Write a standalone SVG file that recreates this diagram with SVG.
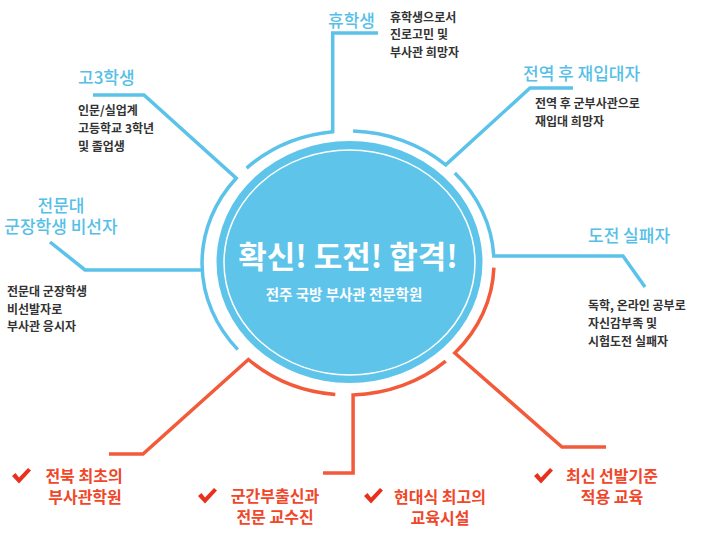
<svg xmlns="http://www.w3.org/2000/svg" width="712" height="539" viewBox="0 0 712 539">
<style>
.conn{fill:none;stroke-width:3.5;stroke-linejoin:miter;stroke-linecap:butt}
.b{stroke:#5bc2ea}
.r{stroke:#f25a3a}
.t{font-family:"Noto Sans CJK KR","Noto Sans",sans-serif;font-size:17px;fill:#56bfe8;font-weight:500}
.d{font-family:"Noto Sans CJK KR","Noto Sans",sans-serif;font-size:12px;fill:#333;font-weight:bold}
.rt{font-family:"Noto Sans CJK KR","Noto Sans",sans-serif;font-size:16px;fill:#f0462a;font-weight:bold;text-anchor:middle}
.ck{fill:#e8301c}
</style>
<defs>
<path id="check" d="M0,8 L3.5,5 L7,9.5 L16,0 L19,2.5 L7,15.5 Z"/>
</defs>
<rect width="712" height="539" fill="#fff"/>
<g id="connectors">
<path class="conn b" d="M246.6,168.1 A146,132 0 0 1 332.7,131.7 L332.7,33 L378,33"/>
<path class="conn b" d="M353.1,131.1 A146,132 0 0 1 445.7,164.9 L530,88 L573,88"/>
<path class="conn b" d="M454.8,173 A146,132 0 0 1 493.8,256.1 L623,256.1 L645,287"/>
<path class="conn r" d="M493.9,267.6 A146,132 0 0 1 454.8,353 L562,447 L606,447"/>
<path class="conn r" d="M445.7,361.1 A146,132 0 0 1 353.1,394.9 L353.1,473 L323,473"/>
<path class="conn r" d="M335.3,394.5 A146,132 0 0 1 248.4,359.5 L143,454 L109,454"/>
<path class="conn b" d="M237.8,349.6 A146,132 0 0 1 236.2,178.2 L144,95 L93,95"/>
<path class="conn b" d="M202.2,269.9 L85,269.9 L50,242"/>
</g>
<g id="center">
<ellipse cx="349.5" cy="262" rx="133" ry="121" fill="#5ec4ea"/>
<ellipse cx="349.5" cy="262.5" rx="125.5" ry="112.5" fill="none" stroke="#fff" stroke-width="1.5"/>
<text x="348" y="268" text-anchor="middle" font-family="'Noto Sans CJK KR','Noto Sans',sans-serif" font-size="31" font-weight="bold" fill="#fff">확신! 도전! 합격!</text>
<text x="344" y="300" text-anchor="middle" font-family="'Noto Sans CJK KR','Noto Sans',sans-serif" font-size="14.5" font-weight="bold" fill="#fff">전주 국방 부사관 전문학원</text>
</g>
<g id="node-hyuhak">
<text class="t" x="328" y="27">휴학생</text>
<text class="d" x="390" y="21.5">휴학생으로서</text>
<text class="d" x="390" y="39">진로고민 및</text>
<text class="d" x="390" y="56.5">부사관 희망자</text>
</g>
<g id="node-go3">
<text class="t" x="78" y="84">고3학생</text>
<text class="d" x="78" y="114.5">인문/실업계</text>
<text class="d" x="78" y="132.5">고등학교 3학년</text>
<text class="d" x="78" y="151">및 졸업생</text>
</g>
<g id="node-jeonyeok">
<text class="t" x="523" y="80">전역 후 재입대자</text>
<text class="d" x="535" y="107.5">전역 후 군부사관으로</text>
<text class="d" x="535" y="125.5">재입대 희망자</text>
</g>
<g id="node-jeonmun">
<text class="t" x="61" y="212" text-anchor="middle">전문대</text>
<text class="t" x="61" y="233" text-anchor="middle">군장학생 비선자</text>
<text class="d" x="7" y="296">전문대 군장학생</text>
<text class="d" x="7" y="313.5">비선발자로</text>
<text class="d" x="7" y="331">부사관 응시자</text>
</g>
<g id="node-dojeon">
<text class="t" x="588" y="242">도전 실패자</text>
<text class="d" x="588" y="310">독학, 온라인 공부로</text>
<text class="d" x="588" y="328">자신감부족 및</text>
<text class="d" x="588" y="346">시험도전 실패자</text>
</g>
<g id="node-jeonbuk">
<use href="#check" class="ck" x="12" y="468"/>
<text class="rt" x="84" y="482">전북 최초의</text>
<text class="rt" x="85" y="503">부사관학원</text>
</g>
<g id="node-gungan">
<use href="#check" class="ck" x="198" y="488"/>
<text class="rt" x="275" y="502">군간부출신과</text>
<text class="rt" x="275" y="523">전문 교수진</text>
</g>
<g id="node-hyeondae">
<use href="#check" class="ck" x="364" y="488"/>
<text class="rt" x="440" y="503">현대식 최고의</text>
<text class="rt" x="440" y="524">교육시설</text>
</g>
<g id="node-choesin">
<use href="#check" class="ck" x="534" y="468"/>
<text class="rt" x="612" y="482">최신 선발기준</text>
<text class="rt" x="612" y="503">적용 교육</text>
</g>
</svg>
